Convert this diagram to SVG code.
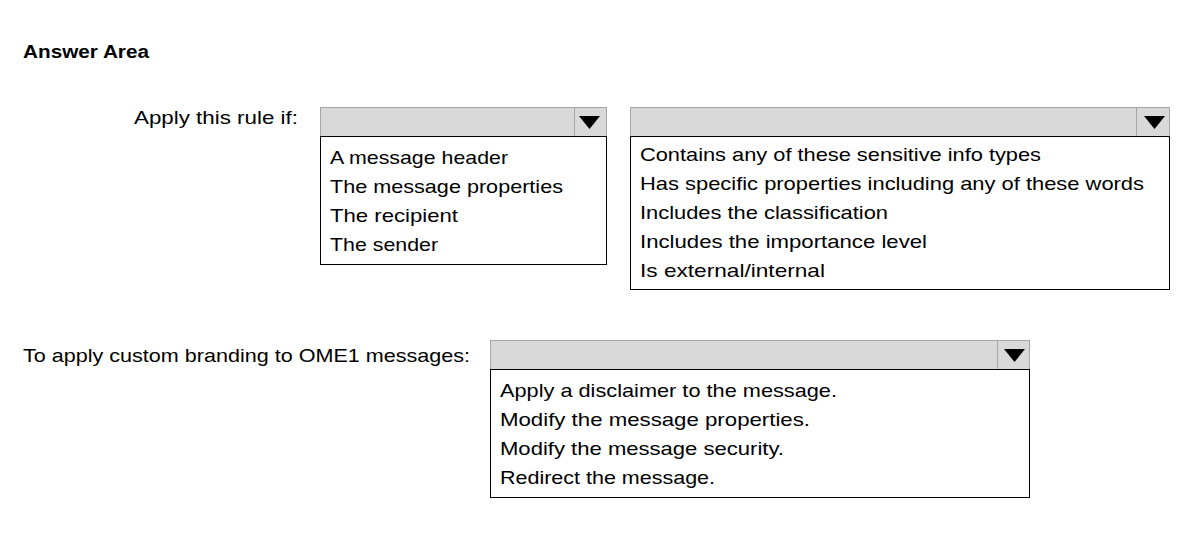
<svg xmlns="http://www.w3.org/2000/svg" width="1189" height="552" viewBox="0 0 1189 552">
<style>
text{font-family:"Liberation Sans",Arial,sans-serif;font-size:19px;fill:#000}
.b{font-weight:bold;font-size:18px}
.hdr{fill:#d9d9d9;stroke:#a6a6a6;stroke-width:1}
.sep{stroke:#a6a6a6;stroke-width:1}
.lst{fill:#fff;stroke:#000;stroke-width:1}
.tri{fill:#000}
</style>
<rect width="1189" height="552" fill="#fff"/>
<text class="b" x="23" y="58" textLength="126" lengthAdjust="spacingAndGlyphs">Answer Area</text>
<text x="134" y="124" textLength="164" lengthAdjust="spacingAndGlyphs">Apply this rule if:</text>
<text x="23" y="362" textLength="447" lengthAdjust="spacingAndGlyphs">To apply custom branding to OME1 messages:</text>

<g id="dropdown1">
<rect class="hdr" x="320.5" y="107.5" width="286" height="29"/>
<line class="sep" x1="574.5" y1="107.5" x2="574.5" y2="136.5"/>
<polygon class="tri" points="579,116 600,116 589.5,129"/>
<rect class="lst" x="320.5" y="136.5" width="286" height="128"/>
<text x="330" y="164" textLength="178" lengthAdjust="spacingAndGlyphs">A message header</text>
<text x="330" y="193" textLength="233" lengthAdjust="spacingAndGlyphs">The message properties</text>
<text x="330" y="222" textLength="128" lengthAdjust="spacingAndGlyphs">The recipient</text>
<text x="330" y="251" textLength="108" lengthAdjust="spacingAndGlyphs">The sender</text>
</g>

<g id="dropdown2">
<rect class="hdr" x="630.5" y="107.5" width="539" height="29"/>
<line class="sep" x1="1136.5" y1="107.5" x2="1136.5" y2="136.5"/>
<polygon class="tri" points="1144,116 1165,116 1154.5,129"/>
<rect class="lst" x="630.5" y="136.5" width="539" height="153"/>
<text x="640" y="161" textLength="401" lengthAdjust="spacingAndGlyphs">Contains any of these sensitive info types</text>
<text x="640" y="190" textLength="504" lengthAdjust="spacingAndGlyphs">Has specific properties including any of these words</text>
<text x="640" y="219" textLength="248" lengthAdjust="spacingAndGlyphs">Includes the classification</text>
<text x="640" y="248" textLength="287" lengthAdjust="spacingAndGlyphs">Includes the importance level</text>
<text x="640" y="277" textLength="185" lengthAdjust="spacingAndGlyphs">Is external/internal</text>
</g>

<g id="dropdown3">
<rect class="hdr" x="490.5" y="340.5" width="539" height="29"/>
<line class="sep" x1="997.5" y1="340.5" x2="997.5" y2="369.5"/>
<polygon class="tri" points="1004,349 1025,349 1014.5,362"/>
<rect class="lst" x="490.5" y="369.5" width="539" height="128"/>
<text x="500" y="397" textLength="337" lengthAdjust="spacingAndGlyphs">Apply a disclaimer to the message.</text>
<text x="500" y="426" textLength="310" lengthAdjust="spacingAndGlyphs">Modify the message properties.</text>
<text x="500" y="455" textLength="284" lengthAdjust="spacingAndGlyphs">Modify the message security.</text>
<text x="500" y="484" textLength="215" lengthAdjust="spacingAndGlyphs">Redirect the message.</text>
</g>
<g id="connectors"/>
</svg>
